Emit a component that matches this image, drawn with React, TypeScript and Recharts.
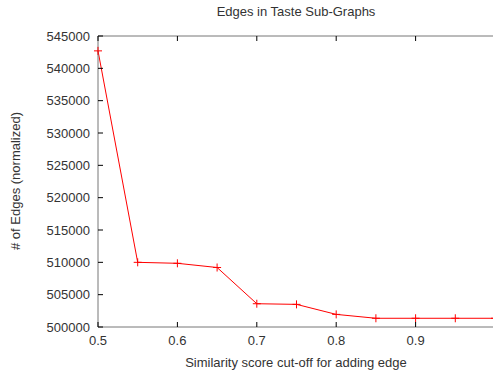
import { LineChart, Line, XAxis, YAxis } from "recharts"

const cutoffs = [0.5, 0.55, 0.6, 0.65, 0.7, 0.75, 0.8, 0.85, 0.9, 0.95, 1.0]
const edges = [542700, 510000, 509850, 509200, 503600, 503500, 501950, 501350, 501350, 501350, 501350]
const xTicks = [0.5, 0.6, 0.7, 0.8, 0.9]
const yTicks = [500000, 505000, 510000, 515000, 520000, 525000, 530000, 535000, 540000, 545000]

const data = cutoffs.map((c, i) => ({ cutoff: c, edges: edges[i] }))

const font = "'Liberation Sans', Arial, sans-serif"
const textColor = "#333"
const frame = "#777"

const LeftTick = (p: any) => {
  const ax = p.x + 8
  return (
    <g>
      <line x1={ax} x2={ax + 5} y1={p.y} y2={p.y} stroke="#000" />
      <text x={p.x} y={p.y} dy={4.5} textAnchor="end" fontSize={13} fontFamily={font} fill={textColor}>
        {p.payload.value}
      </text>
    </g>
  )
}

const RightTick = (p: any) => (
  <line x1={p.x - 5} x2={p.x} y1={p.y} y2={p.y} stroke="#000" />
)

const BottomTick = (p: any) => (
  <g>
    <line x1={p.x} x2={p.x} y1={p.y - 5} y2={p.y} stroke="#000" />
    <text x={p.x} y={p.y + 18} textAnchor="middle" fontSize={13} fontFamily={font} fill={textColor}>
      {p.payload.value}
    </text>
  </g>
)

const TopTick = (p: any) => (
  <line x1={p.x} x2={p.x} y1={p.y} y2={p.y + 5} stroke="#000" />
)

const PlusDot = (p: any) => (
  <g key={p.index}>
    <line x1={p.cx - 4} x2={p.cx + 4} y1={p.cy} y2={p.cy} stroke="#ff0000" />
    <line x1={p.cx} x2={p.cx} y1={p.cy - 4} y2={p.cy + 4} stroke="#ff0000" />
  </g>
)

export default function App() {
  return (
    <div style={{ position: "fixed", left: 0, top: 0, width: 493, height: 376, overflow: "hidden", background: "#fff" }}>
      <div
        style={{
          position: "absolute",
          top: 4,
          left: 0,
          width: 592,
          textAlign: "center",
          fontFamily: font,
          fontSize: 13,
          color: textColor,
        }}
      >
        Edges in Taste Sub-Graphs
      </div>
      <div
        style={{
          position: "absolute",
          left: 15,
          top: 181,
          transform: "translate(-50%, -50%) rotate(-90deg)",
          whiteSpace: "nowrap",
          fontFamily: font,
          fontSize: 13,
          color: textColor,
        }}
      >
        # of Edges (normalized)
      </div>
      <div
        style={{
          position: "absolute",
          top: 355,
          left: 0,
          width: 592,
          textAlign: "center",
          fontFamily: font,
          fontSize: 13,
          color: textColor,
        }}
      >
        Similarity score cut-off for adding edge
      </div>
      <div style={{ position: "absolute", left: 0, top: 0 }}>
        <LineChart width={500} height={376} data={data} margin={{ top: 0, right: 4, bottom: 0, left: 0 }}>
          <XAxis
            xAxisId="b"
            dataKey="cutoff"
            type="number"
            domain={[0.5, 1.0]}
            ticks={xTicks}
            height={49}
            tickSize={0}
            tickMargin={0}
            tickLine={false}
            axisLine={{ stroke: frame }}
            tick={<BottomTick />}
            interval={0}
          />
          <XAxis
            xAxisId="t"
            orientation="top"
            dataKey="cutoff"
            type="number"
            domain={[0.5, 1.0]}
            ticks={xTicks}
            height={36}
            tickSize={0}
            tickMargin={0}
            tickLine={false}
            axisLine={{ stroke: frame }}
            tick={<TopTick />}
            interval={0}
          />
          <YAxis
            yAxisId="l"
            type="number"
            domain={[500000, 545000]}
            ticks={yTicks}
            width={98}
            tickSize={0}
            tickMargin={8}
            tickLine={false}
            axisLine={{ stroke: frame }}
            tick={<LeftTick />}
            interval={0}
          />
          <YAxis
            yAxisId="r"
            orientation="right"
            type="number"
            domain={[500000, 545000]}
            ticks={yTicks}
            width={1}
            tickSize={0}
            tickMargin={0}
            tickLine={false}
            axisLine={{ stroke: frame }}
            tick={<RightTick />}
            interval={0}
          />
          <Line
            xAxisId="b"
            yAxisId="l"
            type="linear"
            dataKey="edges"
            stroke="#ff0000"
            strokeWidth={1}
            dot={<PlusDot />}
            activeDot={false}
            isAnimationActive={false}
          />
        </LineChart>
      </div>
    </div>
  )
}
